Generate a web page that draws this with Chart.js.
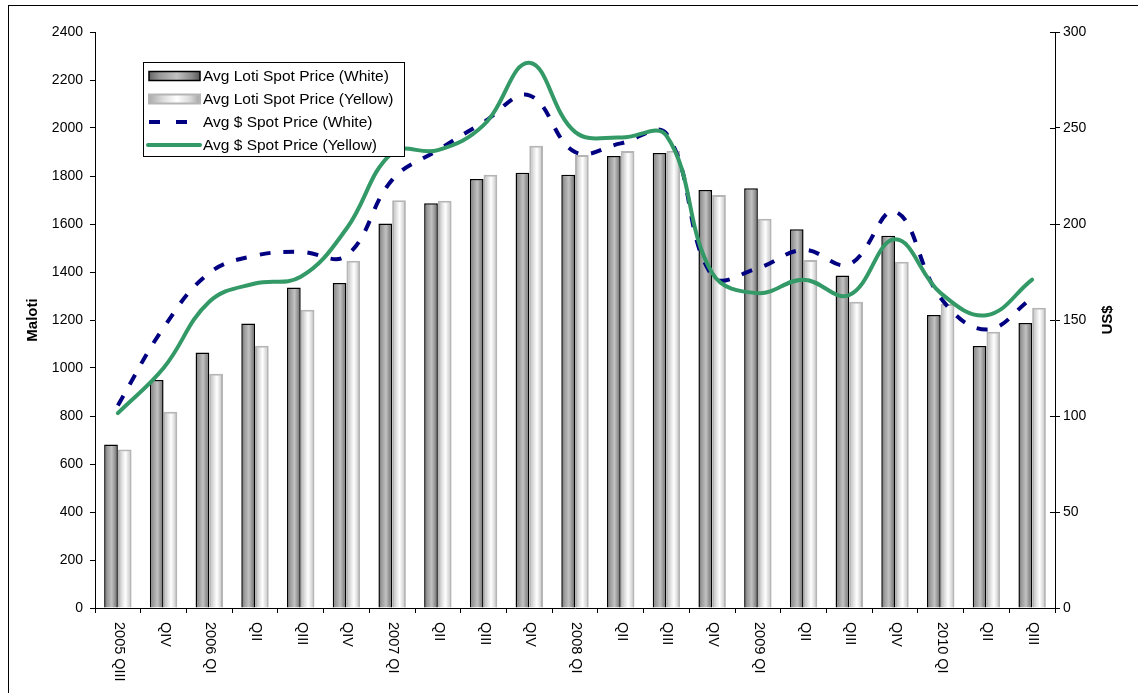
<!DOCTYPE html>
<html>
<head>
<meta charset="utf-8">
<script src="https://cdn.jsdelivr.net/npm/chart.js@4.4.1/dist/chart.umd.min.js"></script>
<style>
  html, body { margin: 0; padding: 0; background: #ffffff; }
  #wrap { width: 1138px; height: 693px; }
</style>
</head>
<body>
<div id="wrap"><canvas id="chart" width="1138" height="693"></canvas></div>
<script>
// Quarterly average diamond spot prices
const quarters = ['2005 QIII', 'QIV', '2006 QI', 'QII', 'QIII', 'QIV', '2007 QI', 'QII', 'QIII', 'QIV',
                  '2008 QI', 'QII', 'QIII', 'QIV', '2009 QI', 'QII', 'QIII', 'QIV', '2010 QI', 'QII', 'QIII'];
const lotiWhite  = [681, 950, 1065, 1185, 1335, 1354, 1602, 1686, 1787, 1814, 1805, 1883, 1896, 1742, 1749, 1578, 1385, 1551, 1221, 1092, 1187];
const lotiYellow = [660, 818, 976, 1093, 1243, 1447, 1699, 1697, 1805, 1926, 1887, 1904, 1905, 1721, 1622, 1450, 1276, 1443, 1267, 1151, 1251];
const usdWhite   = [105.5, 146, 174.5, 183.5, 185.5, 183.5, 223, 238.5, 253, 267, 237.5, 242, 247, 173, 177, 186.5, 179, 206.5, 161.5, 145, 161.5];
const usdYellow  = [101.5, 125, 159.5, 169, 172.5, 197.5, 237, 238.5, 251.5, 284, 248, 245, 246, 174.5, 164, 171, 163, 192, 164, 152.5, 171];
const seriesNames = ['Avg Loti Spot Price (White)', 'Avg Loti Spot Price (Yellow)',
                     'Avg $ Spot Price (White)', 'Avg $ Spot Price (Yellow)'];
const malotiRange = [0, 2400, 200];
const usdRange = [0, 300, 50];

const FONT = '"Liberation Sans", Arial, Helvetica, sans-serif';
const GREEN = '#339966';
const NAVY = '#000080';

// horizontal shading for the two bar styles
function darkStops(g) {
  g.addColorStop(0, '#666666');
  g.addColorStop(0.2, '#979797');
  g.addColorStop(0.55, '#c2c2c2');
  g.addColorStop(0.85, '#878787');
  g.addColorStop(1, '#575757');
  return g;
}
function lightStops(g) {
  g.addColorStop(0, '#ababab');
  g.addColorStop(0.3, '#e0e0e0');
  g.addColorStop(0.55, '#ffffff');
  g.addColorStop(0.8, '#dadada');
  g.addColorStop(1, '#a5a5a5');
  return g;
}

const CAT_PCT = 0.6;
function barShade(kind) {
  return function (c) {
    const chart = c.chart;
    const xs = chart.scales.x;
    if (!chart.chartArea || !xs || c.dataIndex === undefined) return kind ? '#dddddd' : '#999999';
    const cw = xs.width / quarters.length;
    const group = cw * CAT_PCT;
    const center = xs.getPixelForValue(c.dataIndex);
    const left = center - group / 2 + kind * group / 2;
    const g = chart.ctx.createLinearGradient(left, 0, left + group / 2, 0);
    return kind ? lightStops(g) : darkStops(g);
  };
}

const decor = {
  id: 'decor',
  afterDraw(chart) {
    const ctx = chart.ctx;
    const xs = chart.scales.x, y1 = chart.scales.y1;
    const area = chart.chartArea;
    ctx.save();

    // outer frame
    ctx.strokeStyle = '#000';
    ctx.lineWidth = 1;
    ctx.strokeRect(8.5, 5.5, 1400, 900);

    // inner halves of the right-hand tick marks
    ctx.beginPath();
    y1.ticks.forEach((t, i) => {
      const py = Math.round(y1.getPixelForTick(i)) + 0.5;
      ctx.moveTo(area.right - 5, py);
      ctx.lineTo(area.right, py);
    });
    ctx.stroke();

    // category labels, turned to read downwards
    ctx.fillStyle = '#000';
    ctx.font = '14.5px ' + FONT;
    ctx.textAlign = 'left';
    ctx.textBaseline = 'middle';
    quarters.forEach((q, i) => {
      const px = xs.getPixelForValue(i);
      ctx.save();
      ctx.translate(px + 1, area.bottom + 14);
      ctx.rotate(Math.PI / 2);
      ctx.fillText(q, 0, 0);
      ctx.restore();
    });

    // axis titles
    ctx.font = 'bold 15px ' + FONT;
    ctx.textAlign = 'center';
    [['Maloti', 33], ['US$', 1108]].forEach(([t, x]) => {
      ctx.save();
      ctx.translate(x, (area.top + area.bottom) / 2);
      ctx.rotate(-Math.PI / 2);
      ctx.fillText(t, 0, 0);
      ctx.restore();
    });

    // legend
    const lx = 143, ly = 62, lw = 261, lh = 94;
    ctx.fillStyle = '#fff';
    ctx.fillRect(lx, ly, lw, lh);
    ctx.strokeStyle = '#000';
    ctx.lineWidth = 1;
    ctx.strokeRect(lx + 0.5, ly + 0.5, lw, lh);
    const rows = [76, 99, 122, 145];
    const sx0 = 149, sx1 = 200;
    // bar swatches
    [0, 1].forEach(k => {
      const yy = rows[k] - 4.5;
      const g = ctx.createLinearGradient(sx0, 0, sx1, 0);
      ctx.fillStyle = k ? lightStops(g) : darkStops(g);
      ctx.fillRect(sx0, yy, sx1 - sx0, 9);
      ctx.strokeStyle = k ? '#b5b5b5' : '#000';
      ctx.lineWidth = k ? 2 : 1.5;
      ctx.strokeRect(sx0, yy, sx1 - sx0, 9);
    });
    // line swatches
    ctx.lineWidth = 4;
    ctx.strokeStyle = NAVY;
    ctx.setLineDash([11, 16]);
    ctx.beginPath(); ctx.moveTo(sx0, rows[2]); ctx.lineTo(sx1, rows[2]); ctx.stroke();
    ctx.setLineDash([]);
    ctx.strokeStyle = GREEN;
    ctx.lineCap = 'round';
    ctx.beginPath(); ctx.moveTo(sx0 - 1, rows[3]); ctx.lineTo(sx1, rows[3]); ctx.stroke();
    ctx.fillStyle = '#000';
    ctx.font = '15.5px ' + FONT;
    ctx.textAlign = 'left';
    ctx.textBaseline = 'middle';
    seriesNames.forEach((n, i) => ctx.fillText(n, 203, rows[i] + 1));

    ctx.restore();
  }
};

const plainNumber = v => String(v);

new Chart(document.getElementById('chart'), {
  type: 'bar',
  data: {
    labels: quarters,
    datasets: [
      { label: seriesNames[0], data: lotiWhite, yAxisID: 'y', order: 3,
        backgroundColor: barShade(0), borderColor: '#000', borderWidth: 1.5,
        categoryPercentage: CAT_PCT, barPercentage: 1 },
      { label: seriesNames[1], data: lotiYellow, yAxisID: 'y', order: 3,
        backgroundColor: barShade(1), borderColor: '#b5b5b5', borderWidth: 2,
        categoryPercentage: CAT_PCT, barPercentage: 1 },
      { type: 'line', label: seriesNames[2], data: usdWhite, yAxisID: 'y1', order: 2,
        borderColor: NAVY, borderWidth: 4, borderDash: [11, 13], pointRadius: 0,
        tension: 0.4, fill: false },
      { type: 'line', label: seriesNames[3], data: usdYellow, yAxisID: 'y1', order: 1,
        borderColor: GREEN, borderWidth: 4, pointRadius: 0, tension: 0.4, fill: false,
        borderCapStyle: 'round' }
    ]
  },
  options: {
    responsive: false,
    animation: false,
    layout: { padding: { top: 32, left: 0, right: 0, bottom: 0 } },
    plugins: { legend: { display: false }, tooltip: { enabled: false } },
    scales: {
      x: {
        offset: true,
        grid: { display: true, offset: true, drawOnChartArea: false, drawTicks: true, tickLength: 5, color: '#000' },
        border: { display: true, color: '#000', width: 1 },
        ticks: { display: false },
        afterFit: s => { s.height = 85; }
      },
      y: {
        position: 'left',
        min: malotiRange[0], max: malotiRange[1],
        ticks: { stepSize: malotiRange[2], color: '#000', font: { size: 14, family: FONT }, padding: 7, callback: plainNumber },
        grid: { drawOnChartArea: false, drawTicks: true, tickLength: 5, color: '#000' },
        border: { display: true, color: '#000', width: 1 },
        afterFit: s => { s.width = 95; }
      },
      y1: {
        position: 'right',
        min: usdRange[0], max: usdRange[1],
        ticks: { stepSize: usdRange[2], color: '#000', font: { size: 14, family: FONT }, padding: 3, callback: plainNumber },
        grid: { drawOnChartArea: false, drawTicks: true, tickLength: 5, color: '#000' },
        border: { display: true, color: '#000', width: 1 },
        afterFit: s => { s.width = 83; }
      }
    }
  },
  plugins: [decor]
});
</script>
</body>
</html>
